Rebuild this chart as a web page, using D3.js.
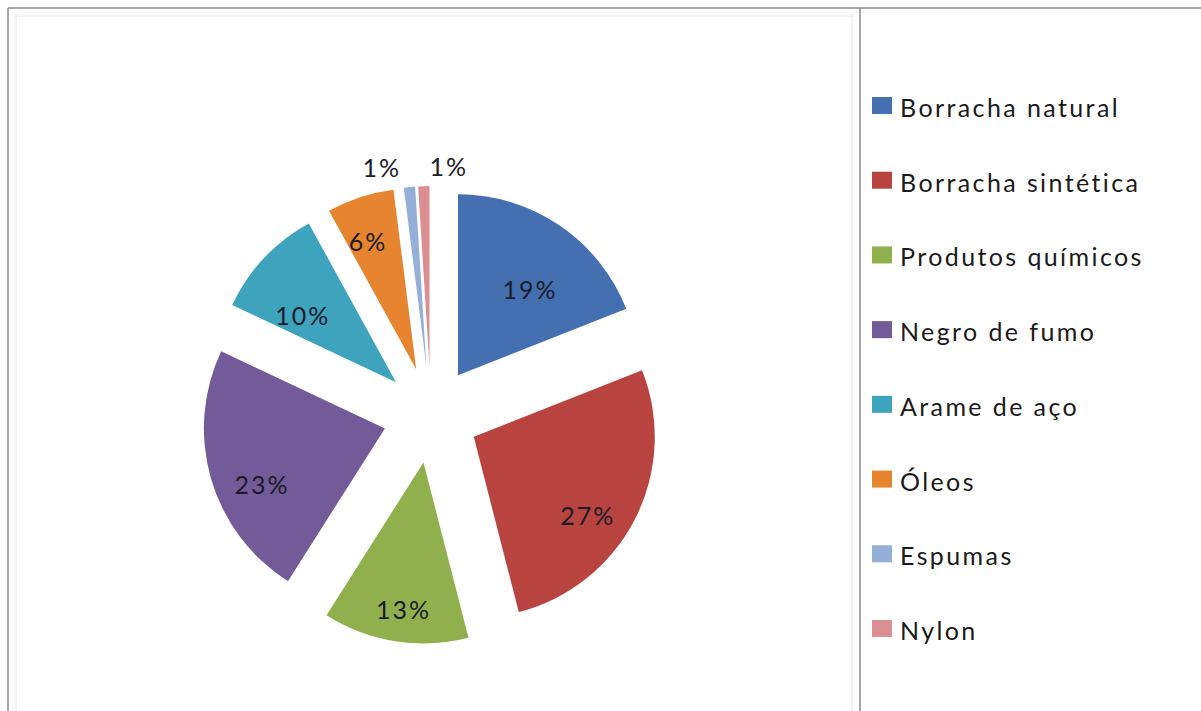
<!DOCTYPE html>
<html>
<head>
<meta charset="utf-8">
<script src="https://cdn.jsdelivr.net/npm/d3@7"></script>
<style>
  body { margin: 0; background: #fff; }
  svg text { font-family: Lato, "Open Sans", sans-serif; }
</style>
</head>
<body>
<svg id="chart" width="1201" height="711"></svg>
<script>
const categories = ["Borracha natural", "Borracha sintética", "Produtos químicos", "Negro de fumo", "Arame de aço", "Óleos", "Espumas", "Nylon"]
const values = [19, 27, 13, 23, 10, 6, 1, 1]
const colors = ["#4470b2", "#b9443f", "#8fb04d", "#735a99", "#3ea3bd", "#e6842f", "#94b0d8", "#dc8f92"]

const svg = d3.select("#chart")

// frame of the chart and legend areas
const frame = svg.append("g")
frame.append("line").attr("x1", 8).attr("y1", 8).attr("x2", 1201).attr("y2", 8).attr("stroke", "#8a8a8a").attr("stroke-width", 1.5)
frame.append("line").attr("x1", 8).attr("y1", 8).attr("x2", 8).attr("y2", 711).attr("stroke", "#8a8a8a").attr("stroke-width", 1.5)
frame.append("line").attr("x1", 860).attr("y1", 8).attr("x2", 860).attr("y2", 711).attr("stroke", "#8a8a8a").attr("stroke-width", 1.5)
frame.append("line").attr("x1", 14).attr("y1", 16).attr("x2", 852).attr("y2", 16).attr("stroke", "#eeeeee").attr("stroke-width", 1.5)
frame.append("line").attr("x1", 16).attr("y1", 14).attr("x2", 16).attr("y2", 711).attr("stroke", "#eeeeee").attr("stroke-width", 1.5)
frame.append("line").attr("x1", 852).attr("y1", 14).attr("x2", 852).attr("y2", 711).attr("stroke", "#eeeeee").attr("stroke-width", 1.5)

// pie
const cx = 431, cy = 415
const radius = 181
const explode = 48
const labelR = 128
const labelDrop = 20

const pie = d3.pie().sort(null).value(d => d)
const arcs = pie(values)
const arc = d3.arc().innerRadius(0).outerRadius(radius)

const midDir = a => {
  const m = (a.startAngle + a.endAngle) / 2
  return [Math.sin(m), -Math.cos(m)]
}

const slices = svg.append("g").attr("transform", `translate(${cx},${cy})`)
slices.selectAll("path")
  .data(arcs)
  .enter()
  .append("path")
  .attr("d", arc)
  .attr("fill", (d, i) => colors[i])
  .attr("transform", d => {
    const [dx, dy] = midDir(d)
    return `translate(${dx * explode},${dy * explode})`
  })

const labelText = slices.selectAll("text")
  .data(arcs)
  .enter()
  .append("text")
  .attr("text-anchor", "middle")
  .attr("dominant-baseline", "central")
  .attr("font-size", 25)
  .attr("letter-spacing", 2)
  .attr("fill", "#1c1c28")
  .text(d => d.value + "%")

// labels: inside for large slices (pushed out when the wedge is narrow), outside for tiny ones
const labels = []
labelText.each(function (d) {
  const w = this.getComputedTextLength()
  const [dx, dy] = midDir(d)
  const half = (d.endAngle - d.startAngle) / 2
  const outside = d.value < 2
  let r, drop
  if (outside) {
    r = radius + 20
    drop = 0
  } else {
    r = Math.max(labelR, (w / 2 + 10) / Math.sin(half))
    drop = labelDrop
  }
  labels.push({ node: this, x: dx * (explode + r), y: dy * (explode + r) + drop, outside })
})

// spread the outside labels apart so they do not overlap
const outs = labels.filter(l => l.outside).sort((a, b) => a.x - b.x)
const minGap = 67
for (let k = 0; k < 20; k++) {
  for (let j = 1; j < outs.length; j++) {
    const gap = outs[j].x - outs[j - 1].x
    if (gap < minGap) {
      const push = (minGap - gap) / 2
      outs[j].x += push
      outs[j - 1].x -= push
    }
  }
}
labels.forEach(l => {
  d3.select(l.node).attr("x", l.x).attr("y", l.y)
})

// legend
const legendY = d3.scalePoint().domain(categories).range([107, 630])
const legend = svg.append("g")
const item = legend.selectAll("g")
  .data(categories)
  .enter()
  .append("g")
  .attr("transform", d => `translate(872,${legendY(d)})`)
item.append("rect")
  .attr("x", 0)
  .attr("y", -10)
  .attr("width", 20)
  .attr("height", 17)
  .attr("fill", (d, i) => colors[i])
item.append("text")
  .attr("x", 28)
  .attr("y", 0)
  .attr("dominant-baseline", "central")
  .attr("font-size", 25)
  .attr("letter-spacing", 2.4)
  .attr("fill", "#1a1a1a")
  .text(d => d)
</script>
</body>
</html>
